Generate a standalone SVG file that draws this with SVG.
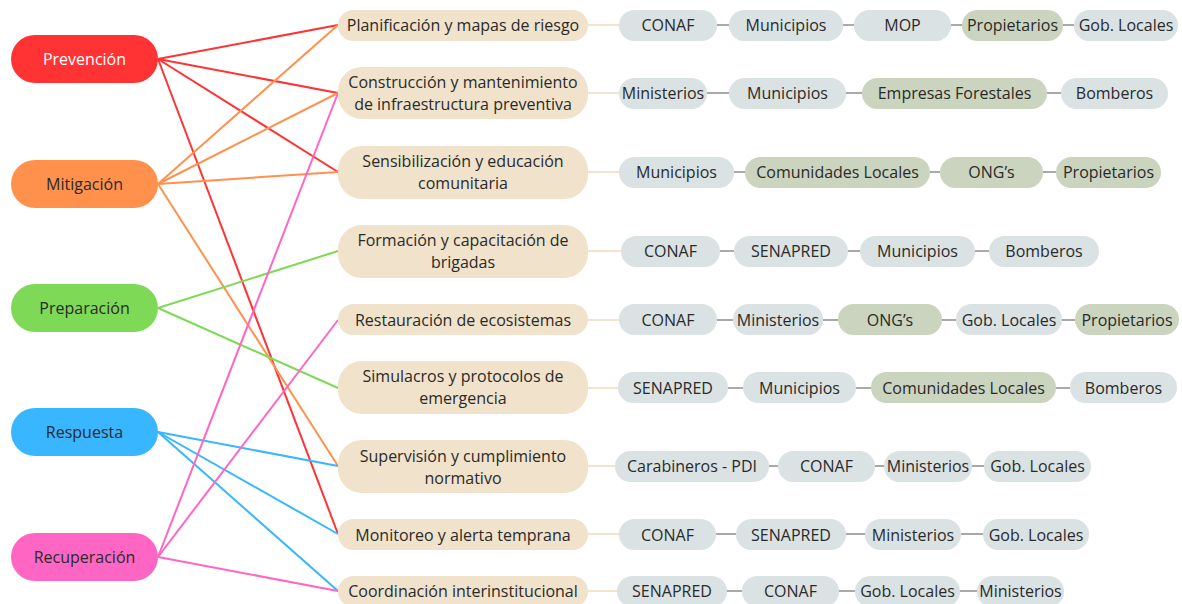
<svg xmlns="http://www.w3.org/2000/svg" width="1182" height="604" viewBox="0 0 1182 604">
<style>
text{font-family:"Open Sans","Noto Sans","Liberation Sans",sans-serif;font-size:16px;fill:#2a2a2a;text-anchor:middle;dominant-baseline:central}
.phase text{font-size:16px}
.act rect{fill:#F0E2CB}
.chip{fill:#DAE2E3}
.chipg{fill:#CAD4BF}
.ln{stroke-width:2;fill:none}
.bl{stroke:#F2E4CE;stroke-width:2}
.gl{stroke:#A9A9A9;stroke-width:2}
</style>
<rect width="1182" height="604" fill="#fff"/>
<g id="connectors">
<g stroke="#FF3333" class="ln">
<line x1="158" y1="59" x2="338" y2="25"/><line x1="158" y1="59" x2="338" y2="93"/><line x1="158" y1="59" x2="338" y2="172"/><line x1="158" y1="59" x2="338" y2="534"/>
</g>
<g stroke="#FF914D" class="ln">
<line x1="158" y1="184" x2="338" y2="25"/><line x1="158" y1="184" x2="338" y2="93"/><line x1="158" y1="184" x2="338" y2="172"/><line x1="158" y1="184" x2="338" y2="466"/>
</g>
<g stroke="#7ED957" class="ln">
<line x1="158" y1="308" x2="338" y2="251"/><line x1="158" y1="308" x2="338" y2="388"/>
</g>
<g stroke="#38B6FF" class="ln">
<line x1="158" y1="432" x2="338" y2="466"/><line x1="158" y1="432" x2="338" y2="534"/><line x1="158" y1="432" x2="338" y2="591"/>
</g>
<g stroke="#FF66C4" class="ln">
<line x1="158" y1="557" x2="338" y2="93"/><line x1="158" y1="557" x2="338" y2="320"/><line x1="158" y1="557" x2="338" y2="591"/>
</g>
<g class="bl">
<line x1="588" y1="25" x2="619" y2="25"/><line x1="588" y1="93" x2="619" y2="93"/><line x1="588" y1="172" x2="619" y2="172"/><line x1="588" y1="251" x2="621" y2="251"/><line x1="588" y1="320" x2="619" y2="320"/><line x1="588" y1="388" x2="618" y2="388"/><line x1="588" y1="466" x2="615" y2="466"/><line x1="588" y1="534" x2="619" y2="534"/><line x1="588" y1="591" x2="617" y2="591"/>
</g>
<g class="gl">
<line x1="717" y1="25" x2="729" y2="25"/><line x1="843" y1="25" x2="854" y2="25"/><line x1="951" y1="25" x2="962" y2="25"/><line x1="1063" y1="25" x2="1074" y2="25"/>
<line x1="707" y1="93" x2="729" y2="93"/><line x1="846" y1="93" x2="862" y2="93"/><line x1="1047" y1="93" x2="1061" y2="93"/>
<line x1="734" y1="172" x2="745" y2="172"/><line x1="930" y1="172" x2="940" y2="172"/><line x1="1043" y1="172" x2="1056" y2="172"/>
<line x1="720" y1="251" x2="734" y2="251"/><line x1="848" y1="251" x2="860" y2="251"/><line x1="975" y1="251" x2="989" y2="251"/>
<line x1="717" y1="320" x2="733" y2="320"/><line x1="823" y1="320" x2="838" y2="320"/><line x1="942" y1="320" x2="956" y2="320"/><line x1="1062" y1="320" x2="1075" y2="320"/>
<line x1="728" y1="388" x2="743" y2="388"/><line x1="856" y1="388" x2="871" y2="388"/><line x1="1056" y1="388" x2="1070" y2="388"/>
<line x1="769" y1="466" x2="778" y2="466"/><line x1="875" y1="466" x2="884" y2="466"/><line x1="972" y1="466" x2="984" y2="466"/>
<line x1="716" y1="534" x2="736" y2="534"/><line x1="846" y1="534" x2="865" y2="534"/><line x1="961" y1="534" x2="983" y2="534"/>
<line x1="727" y1="591" x2="742" y2="591"/><line x1="839" y1="591" x2="855" y2="591"/><line x1="960" y1="591" x2="977" y2="591"/>
</g>
</g>
<g class="phase">
<g id="prevencion"><rect x="11" y="35" width="147" height="48" rx="24" fill="#FF3333"/><text x="84.5" y="59" style="fill:#fff">Prevención</text></g>
<g id="mitigacion"><rect x="11" y="160" width="147" height="48" rx="24" fill="#FF914D"/><text x="84.5" y="184">Mitigación</text></g>
<g id="preparacion"><rect x="11" y="284" width="147" height="48" rx="24" fill="#7ED957"/><text x="84.5" y="308">Preparación</text></g>
<g id="respuesta"><rect x="11" y="408" width="147" height="48" rx="24" fill="#38B6FF"/><text x="84.5" y="432">Respuesta</text></g>
<g id="recuperacion"><rect x="11" y="533" width="147" height="48" rx="24" fill="#FF66C4"/><text x="84.5" y="557">Recuperación</text></g>
</g>
<g class="act">
<g id="a1"><rect x="338" y="10" width="250" height="31" rx="15.5"/><text x="463" y="25">Planificación y mapas de riesgo</text></g>
<g id="a2"><rect x="338" y="67" width="250" height="52" rx="24"/><text x="463" y="82">Construcción y mantenimiento</text><text x="463" y="104">de infraestructura preventiva</text></g>
<g id="a3"><rect x="338" y="146" width="250" height="53" rx="24"/><text x="463" y="161">Sensibilización y educación</text><text x="463" y="183">comunitaria</text></g>
<g id="a4"><rect x="338" y="225" width="250" height="53" rx="24"/><text x="463" y="240">Formación y capacitación de</text><text x="463" y="262">brigadas</text></g>
<g id="a5"><rect x="338" y="304" width="250" height="31" rx="15.5"/><text x="463" y="320">Restauración de ecosistemas</text></g>
<g id="a6"><rect x="338" y="361" width="250" height="53" rx="24"/><text x="463" y="376">Simulacros y protocolos de</text><text x="463" y="398">emergencia</text></g>
<g id="a7"><rect x="338" y="440" width="250" height="53" rx="24"/><text x="463" y="456">Supervisión y cumplimiento</text><text x="463" y="478">normativo</text></g>
<g id="a8"><rect x="338" y="519" width="250" height="31" rx="15.5"/><text x="463" y="534.5">Monitoreo y alerta temprana</text></g>
<g id="a9"><rect x="338" y="576" width="250" height="31" rx="15.5"/><text x="463" y="591">Coordinación interinstitucional</text></g>
</g>
<g id="entities">
<g id="r1">
<rect class="chip" x="619" y="10" width="98" height="31" rx="15.5"/><text x="668" y="25">CONAF</text>
<rect class="chip" x="729" y="10" width="114" height="31" rx="15.5"/><text x="786" y="25">Municipios</text>
<rect class="chip" x="854" y="10" width="97" height="31" rx="15.5"/><text x="902.5" y="25">MOP</text>
<rect class="chipg" x="962" y="10" width="101" height="31" rx="15.5"/><text x="1012.5" y="25">Propietarios</text>
<rect class="chip" x="1074" y="10" width="104" height="31" rx="15.5"/><text x="1126" y="25">Gob. Locales</text>
</g>
<g id="r2">
<rect class="chip" x="619" y="78" width="88" height="31" rx="15.5"/><text x="663" y="93">Ministerios</text>
<rect class="chip" x="729" y="78" width="117" height="31" rx="15.5"/><text x="787.5" y="93">Municipios</text>
<rect class="chipg" x="862" y="78" width="185" height="31" rx="15.5"/><text x="954.5" y="93">Empresas Forestales</text>
<rect class="chip" x="1061" y="78" width="107" height="31" rx="15.5"/><text x="1114.5" y="93">Bomberos</text>
</g>
<g id="r3">
<rect class="chip" x="619" y="157" width="115" height="31" rx="15.5"/><text x="676.5" y="172">Municipios</text>
<rect class="chipg" x="745" y="157" width="185" height="31" rx="15.5"/><text x="837.5" y="172">Comunidades Locales</text>
<rect class="chipg" x="940" y="157" width="103" height="31" rx="15.5"/><text x="991.5" y="172">ONG’s</text>
<rect class="chipg" x="1056" y="157" width="105" height="31" rx="15.5"/><text x="1108.5" y="172">Propietarios</text>
</g>
<g id="r4">
<rect class="chip" x="621" y="236" width="99" height="31" rx="15.5"/><text x="670.5" y="251">CONAF</text>
<rect class="chip" x="734" y="236" width="114" height="31" rx="15.5"/><text x="791" y="251">SENAPRED</text>
<rect class="chip" x="860" y="236" width="115" height="31" rx="15.5"/><text x="917.5" y="251">Municipios</text>
<rect class="chip" x="989" y="236" width="110" height="31" rx="15.5"/><text x="1044" y="251">Bomberos</text>
</g>
<g id="r5">
<rect class="chip" x="619" y="304" width="98" height="31" rx="15.5"/><text x="668" y="320">CONAF</text>
<rect class="chip" x="733" y="304" width="90" height="31" rx="15.5"/><text x="778" y="320">Ministerios</text>
<rect class="chipg" x="838" y="304" width="104" height="31" rx="15.5"/><text x="890" y="320">ONG’s</text>
<rect class="chip" x="956" y="304" width="106" height="31" rx="15.5"/><text x="1009" y="320">Gob. Locales</text>
<rect class="chipg" x="1075" y="304" width="104" height="31" rx="15.5"/><text x="1127" y="320">Propietarios</text>
</g>
<g id="r6">
<rect class="chip" x="618" y="372" width="110" height="31" rx="15.5"/><text x="673" y="388">SENAPRED</text>
<rect class="chip" x="743" y="372" width="113" height="31" rx="15.5"/><text x="799.5" y="388">Municipios</text>
<rect class="chipg" x="871" y="372" width="185" height="31" rx="15.5"/><text x="963.5" y="388">Comunidades Locales</text>
<rect class="chip" x="1070" y="372" width="107" height="31" rx="15.5"/><text x="1123.5" y="388">Bomberos</text>
</g>
<g id="r7">
<rect class="chip" x="615" y="451" width="154" height="31" rx="15.5"/><text x="692" y="466">Carabineros - PDI</text>
<rect class="chip" x="778" y="451" width="97" height="31" rx="15.5"/><text x="826.5" y="466">CONAF</text>
<rect class="chip" x="884" y="451" width="88" height="31" rx="15.5"/><text x="928" y="466">Ministerios</text>
<rect class="chip" x="984" y="451" width="107" height="31" rx="15.5"/><text x="1037.5" y="466">Gob. Locales</text>
</g>
<g id="r8">
<rect class="chip" x="619" y="519" width="97" height="31" rx="15.5"/><text x="667.5" y="534.5">CONAF</text>
<rect class="chip" x="736" y="519" width="110" height="31" rx="15.5"/><text x="791" y="534.5">SENAPRED</text>
<rect class="chip" x="865" y="519" width="96" height="31" rx="15.5"/><text x="913" y="534.5">Ministerios</text>
<rect class="chip" x="983" y="519" width="106" height="31" rx="15.5"/><text x="1036" y="534.5">Gob. Locales</text>
</g>
<g id="r9">
<rect class="chip" x="617" y="576" width="110" height="31" rx="15.5"/><text x="672" y="591">SENAPRED</text>
<rect class="chip" x="742" y="576" width="97" height="31" rx="15.5"/><text x="790.5" y="591">CONAF</text>
<rect class="chip" x="855" y="576" width="105" height="31" rx="15.5"/><text x="907.5" y="591">Gob. Locales</text>
<rect class="chip" x="977" y="576" width="87" height="31" rx="15.5"/><text x="1020.5" y="591">Ministerios</text>
</g>
</g>
</svg>
